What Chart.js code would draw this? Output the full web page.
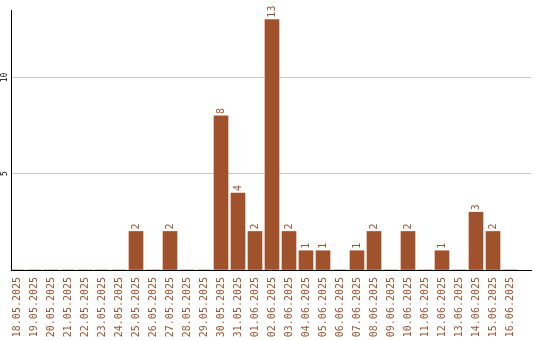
<!DOCTYPE html>
<html><head><meta charset="utf-8">
<script src="https://cdn.jsdelivr.net/npm/chart.js@4"></script>
<style>html,body{margin:0;padding:0;background:#fff}#wrap{width:540px;height:340px}</style>
</head><body><div id="wrap"><canvas id="c"></canvas></div>
<script>
const dates = ["18.05.2025","19.05.2025","20.05.2025","21.05.2025","22.05.2025","23.05.2025","24.05.2025","25.05.2025","26.05.2025","27.05.2025","28.05.2025","29.05.2025","30.05.2025","31.05.2025","01.06.2025","02.06.2025","03.06.2025","04.06.2025","05.06.2025","06.06.2025","07.06.2025","08.06.2025","09.06.2025","10.06.2025","11.06.2025","12.06.2025","13.06.2025","14.06.2025","15.06.2025","16.06.2025"];
const counts = [0,0,0,0,0,0,0,2,0,2,0,0,8,4,2,13,2,1,1,0,1,2,0,2,0,1,0,3,2,0];
const yTicks = [5,10];

const BROWN = '#a0522d';
const FONT = '"DejaVu Sans Mono", monospace';

const labelsPlugin = {
  id: 'rotLabels',
  afterDatasetsDraw(chart) {
    const ctx = chart.ctx;
    const meta = chart.getDatasetMeta(0);
    ctx.save();
    ctx.fillStyle = BROWN;
    ctx.font = '10px ' + FONT;
    ctx.textAlign = 'left';
    ctx.textBaseline = 'middle';
    meta.data.forEach((bar, i) => {
      const v = counts[i];
      if (!v) return;
      ctx.save();
      ctx.translate(bar.x, bar.y - 2);
      ctx.rotate(-Math.PI / 2);
      ctx.fillText(String(v), 0, 0);
      ctx.restore();
    });
    const ys = chart.scales.y;
    ctx.fillStyle = '#000';
    ctx.font = '8px ' + FONT;
    ctx.textAlign = 'center';
    yTicks.forEach(t => {
      ctx.save();
      ctx.translate(5, ys.getPixelForValue(t));
      ctx.rotate(-Math.PI / 2);
      ctx.fillText(String(t), 0, 0);
      ctx.restore();
    });
    ctx.restore();
  }
};

new Chart(document.getElementById('c'), {
  type: 'bar',
  data: {
    datasets: [{
      data: counts.map((v, i) => ({x: i, y: v})),
      backgroundColor: BROWN,
      barThickness: 14,
      borderWidth: 0
    }]
  },
  options: {
    responsive: true,
    maintainAspectRatio: false,
    animation: false,
    layout: {padding: {top: 10, right: 9, left: 0, bottom: 0}},
    plugins: {legend: {display: false}, tooltip: {enabled: false}},
    scales: {
      x: {
        type: 'linear',
        offset: false,
        min: -6/17,
        max: 514/17,
        afterBuildTicks: s => { s.ticks = dates.map((_, i) => ({value: i})); },
        afterFit: s => { s.height = 70; },
        grid: {display: false, drawTicks: false, offset: false},
        border: {display: true, color: '#000', width: 1},
        ticks: {
          autoSkip: false,
          minRotation: 90,
          maxRotation: 90,
          padding: 7,
          color: BROWN,
          font: {family: FONT, size: 10},
          callback: v => dates[v]
        }
      },
      y: {
        min: 0,
        max: 13.5,
        afterBuildTicks: s => { s.ticks = [0].concat(yTicks).map(v => ({value: v})); },
        afterFit: s => { s.width = 11; },
        grid: {color: '#c8c8c8', drawTicks: false},
        border: {display: true, color: '#000', width: 1},
        ticks: {display: false}
      }
    }
  },
  plugins: [labelsPlugin]
});
</script>
</body></html>
